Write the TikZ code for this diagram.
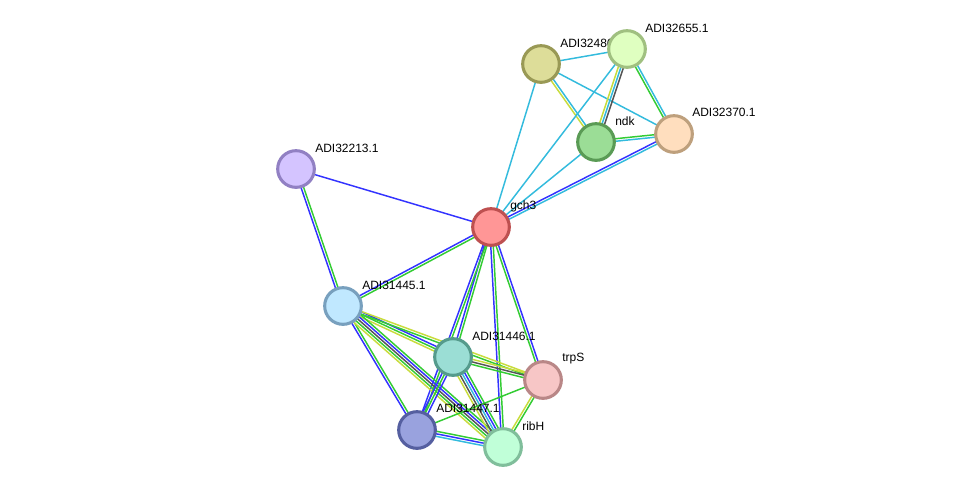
\documentclass[tikz,border=0pt]{standalone}
\usepackage{fontspec}
\setmainfont{Liberation Sans}
\usetikzlibrary{calc}
\pgfdeclarelayer{bg}
\pgfdeclarelayer{edges}
\pgfdeclarelayer{labels}
\pgfsetlayers{bg,edges,labels,main}
\definecolor{eg}{HTML}{33CC33}
\definecolor{eb}{HTML}{3333FF}
\definecolor{ec}{HTML}{33BBDD}
\definecolor{ey}{HTML}{C8DC3C}
\definecolor{ek}{HTML}{555555}
\newcommand\sedge[3]{%
  \foreach \c [count=\i] in {#3} {\xdef\nlines{\i}}%
  \foreach \c [count=\i] in {#3} {%
    \pgfmathsetmacro\off{(\i-(\nlines+1)/2)*1.9}%
    \draw[edgeline,\c] ($(#1)!\off pt!90:(#2)$) -- ($(#2)!\off pt!-90:(#1)$);%
  }%
}
\tikzset{
  prot/.style={circle, minimum size=27.5pt, inner sep=0pt, line width=2.3pt},
  lbl/.style={anchor=west, inner sep=0pt, font=\fontsize{9pt}{10pt}\selectfont, text=black},
  edgeline/.style={line width=1.1pt}
}
\begin{document}
\begin{tikzpicture}[x=0.75pt,y=-0.75pt]
\useasboundingbox (0,0) rectangle (975,493);
\begin{pgfonlayer}{bg}
\fill[white] (0,0) rectangle (975,493);
\end{pgfonlayer}
% proteins
\node[prot, draw={rgb,255:red,153;green,153;blue,85}, fill={rgb,255:red,221;green,221;blue,153}] (a486) at (541,64) {};
\node[prot, draw={rgb,255:red,160;green,192;blue,128}, fill={rgb,255:red,223;green,255;blue,192}] (a655) at (627,49) {};
\node[prot, draw={rgb,255:red,90;green,155;blue,85}, fill={rgb,255:red,155;green,221;blue,150}] (ndk) at (596,142) {};
\node[prot, draw={rgb,255:red,190;green,160;blue,125}, fill={rgb,255:red,255;green,222;blue,190}] (a370) at (674,134) {};
\node[prot, draw={rgb,255:red,145;green,128;blue,195}, fill={rgb,255:red,212;green,196;blue,255}] (a213) at (296,169) {};
\node[prot, draw={rgb,255:red,190;green,80;blue,80}, fill={rgb,255:red,255;green,150;blue,150}] (gch3) at (491,227) {};
\node[prot, draw={rgb,255:red,120;green,160;blue,190}, fill={rgb,255:red,192;green,232;blue,255}] (a445) at (343,306) {};
\node[prot, draw={rgb,255:red,85;green,155;blue,140}, fill={rgb,255:red,155;green,222;blue,213}] (a446) at (453,357) {};
\node[prot, draw={rgb,255:red,185;green,135;blue,135}, fill={rgb,255:red,247;green,198;blue,198}] (trpS) at (543,380) {};
\node[prot, draw={rgb,255:red,85;green,95;blue,160}, fill={rgb,255:red,153;green,162;blue,222}] (a447) at (417,430) {};
\node[prot, draw={rgb,255:red,128;green,190;blue,155}, fill={rgb,255:red,192;green,255;blue,216}] (ribH) at (503,447) {};
% labels
\begin{pgfonlayer}{labels}
\node[lbl] (l486) at ($(a486)+(19,-21)$) {ADI32486.1};
\node[lbl] (l655) at ($(a655)+(18,-21)$) {ADI32655.1};
\node[lbl] (lndk) at ($(ndk)+(19,-21)$) {ndk};
\node[lbl] (l370) at ($(a370)+(18,-22)$) {ADI32370.1};
\node[lbl] (l213) at ($(a213)+(19,-21)$) {ADI32213.1};
\node[lbl] (lgch3) at ($(gch3)+(19,-21)$) {gch3};
\node[lbl] (l445) at ($(a445)+(19,-21)$) {ADI31445.1};
\node[lbl] (l446) at ($(a446)+(19,-21)$) {ADI31446.1};
\node[lbl] (ltrpS) at ($(trpS)+(19,-21)$) {trpS};
\node[lbl] (l447) at ($(a447)+(19,-22)$) {ADI31447.1};
\node[lbl] (lribH) at ($(ribH)+(19,-21)$) {ribH};
\end{pgfonlayer}
% edges
\begin{pgfonlayer}{edges}
\sedge{a486}{a655}{ec}
\sedge{a486}{ndk}{ey,ec}
\sedge{a486}{a370}{ec}
\sedge{a486}{gch3}{ec}
\sedge{a655}{ndk}{ey,ec,ek}
\sedge{a655}{a370}{eg,ec}
\sedge{a655}{gch3}{ec}
\sedge{ndk}{a370}{ec,eg}
\sedge{ndk}{gch3}{ec}
\sedge{a370}{gch3}{eb,ec}
\sedge{a213}{gch3}{eb}
\sedge{a213}{a445}{eb,eg}
\sedge{gch3}{a445}{eb,eg}
\sedge{gch3}{a446}{eb,eg}
\sedge{gch3}{a447}{eb,eg}
\sedge{gch3}{ribH}{eb,eg}
\sedge{gch3}{trpS}{eg,eb}
\sedge{a445}{a446}{ey,eg,eb}
\sedge{a445}{trpS}{eg,ey}
\sedge{a445}{a447}{eb,eg}
\sedge{a445}{ribH}{ey,eg,ek,eb,eg}
\sedge{a446}{trpS}{eg,ek,ey}
\sedge{a446}{a447}{eb,eg,eb}
\sedge{a446}{ribH}{ey,ek,ec,eb,eg}
\sedge{a447}{trpS}{eg}
\sedge{a447}{ribH}{ec,eb,eg}
\sedge{trpS}{ribH}{ey,eg}
\end{pgfonlayer}
\end{tikzpicture}
\end{document}
